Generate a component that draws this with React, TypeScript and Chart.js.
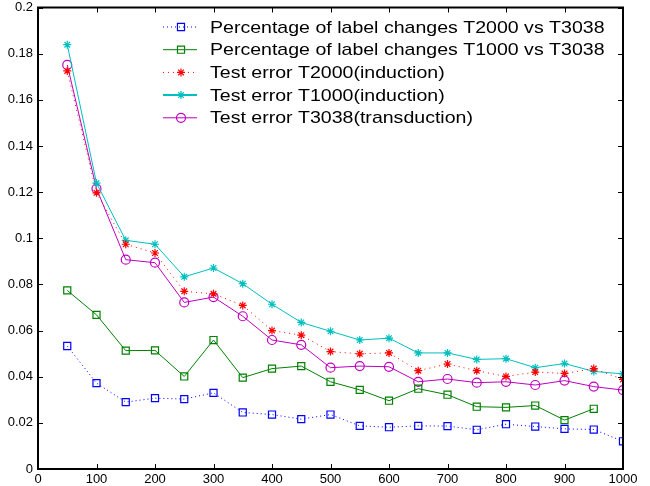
import React, { useEffect, useRef } from "react";
import { Chart, registerables } from "chart.js";
import { drawPoint } from "chart.js/helpers";

Chart.register(...registerables);

const sizes = [50, 100, 150, 200, 250, 300, 350, 400, 450, 500, 550, 600, 650, 700, 750, 800, 850, 900, 950, 1000];

const changesT2000 = [0.0533, 0.0372, 0.029, 0.0307, 0.0303, 0.033, 0.0245, 0.0236, 0.0216, 0.0236, 0.0187, 0.0181, 0.0187, 0.0186, 0.017, 0.0194, 0.0184, 0.0174, 0.0171, 0.012];
const changesT1000 = [0.0774, 0.0668, 0.0513, 0.0514, 0.0401, 0.0559, 0.0396, 0.0435, 0.0446, 0.0378, 0.0343, 0.0296, 0.0348, 0.0322, 0.027, 0.0267, 0.0275, 0.0212, 0.0261, null];
const errorT2000 = [0.1725, 0.1197, 0.0974, 0.0936, 0.077, 0.0759, 0.0709, 0.06, 0.058, 0.0509, 0.0499, 0.0503, 0.0426, 0.0455, 0.0426, 0.0401, 0.042, 0.0414, 0.0435, 0.0388];
const errorT1000 = [0.1839, 0.1239, 0.0991, 0.0974, 0.0833, 0.0871, 0.0803, 0.0714, 0.0635, 0.0597, 0.0559, 0.0567, 0.0503, 0.0503, 0.0475, 0.0478, 0.0439, 0.0457, 0.0423, 0.0412];
const errorT3038 = [0.1751, 0.1215, 0.0907, 0.0894, 0.0722, 0.0745, 0.0662, 0.0559, 0.0538, 0.0439, 0.0446, 0.0443, 0.0378, 0.039, 0.0374, 0.0378, 0.0364, 0.0383, 0.0357, 0.0342];

const labels = [
  "Percentage of label changes T2000 vs T3038",
  "Percentage of label changes T1000 vs T3038",
  "Test error T2000(induction)",
  "Test error T1000(induction)",
  "Test error T3038(transduction)",
];

const FONT = "'Liberation Sans', Arial, Helvetica, sans-serif";

// inward ticks on all four sides + the box, like the old matlab plots
const boxPlugin = {
  id: "box",
  afterDraw(chart) {
    const { ctx, chartArea: a, scales } = chart;
    const len = 5;
    ctx.save();
    ctx.strokeStyle = "#000";
    ctx.lineWidth = 1;
    for (const t of scales.x.ticks) {
      const px = Math.round(scales.x.getPixelForValue(t.value)) + 0.5;
      ctx.beginPath();
      ctx.moveTo(px, a.bottom);
      ctx.lineTo(px, a.bottom - len);
      ctx.moveTo(px, a.top);
      ctx.lineTo(px, a.top + len);
      ctx.stroke();
    }
    for (const t of scales.y.ticks) {
      const py = Math.round(scales.y.getPixelForValue(t.value)) + 0.5;
      ctx.beginPath();
      ctx.moveTo(a.left, py);
      ctx.lineTo(a.left + len, py);
      ctx.moveTo(a.right, py);
      ctx.lineTo(a.right - len, py);
      ctx.stroke();
    }
    ctx.lineWidth = 2;
    ctx.strokeRect(a.left, a.top, a.right - a.left, a.bottom - a.top);
    ctx.restore();
  },
};

const legendPlugin = {
  id: "boxLegend",
  afterDraw(chart) {
    const { ctx } = chart;
    const x0 = 163;
    const x1 = 197;
    const mx = 181;
    const tx = 210;
    const top = 27;
    const step = 22.7;
    ctx.save();
    chart.data.datasets.forEach((ds, i) => {
      const y = top + i * step;
      ctx.strokeStyle = ds.borderColor;
      ctx.lineWidth = i === 3 ? 2 : ds.borderWidth;
      ctx.setLineDash(ds.borderDash || []);
      ctx.beginPath();
      ctx.moveTo(x0, y);
      ctx.lineTo(x1, y);
      ctx.stroke();
      ctx.setLineDash([]);
      ctx.fillStyle = ds.pointBackgroundColor;
      ctx.strokeStyle = ds.pointBorderColor;
      ctx.lineWidth = 1.2;
      drawPoint(ctx, { pointStyle: ds.pointStyle, radius: ds.pointRadius, rotation: 0, borderWidth: 1.2 }, mx, y);
      // the source image is a bit stretched sideways, so widen the text to match
      ctx.save();
      ctx.translate(tx, y);
      ctx.scale(1.15, 1);
      ctx.fillStyle = "#000";
      ctx.font = `17px ${FONT}`;
      ctx.textBaseline = "middle";
      ctx.fillText(ds.label, 0, 1);
      ctx.restore();
    });
    ctx.restore();
  },
};

const App = () => {
  const canvasRef = useRef(null);

  useEffect(() => {
    const mk = (i, data, color, style, radius, dash) => ({
      label: labels[i],
      data,
      borderColor: color,
      borderWidth: 1,
      borderDash: dash,
      pointStyle: style,
      pointRadius: radius,
      pointBorderColor: color,
      pointBackgroundColor: "rgba(255,255,255,0)",
      pointBorderWidth: 1.2,
      tension: 0,
      spanGaps: false,
    });

    const chart = new Chart(canvasRef.current.getContext("2d"), {
      type: "line",
      data: {
        labels: sizes,
        datasets: [
          mk(0, changesT2000, "#0000ff", "rect", 5, [1, 3]),
          mk(1, changesT1000, "#008000", "rect", 5, []),
          mk(2, errorT2000, "#ff0000", "star", 4, [1, 4]),
          mk(3, errorT1000, "#00bfbf", "star", 4, []),
          mk(4, errorT3038, "#bf00bf", "circle", 4.5, []),
        ],
      },
      options: {
        responsive: false,
        animation: false,
        devicePixelRatio: 1,
        layout: { padding: { top: 7.5, right: 27, left: 0, bottom: 0 } },
        plugins: { legend: { display: false }, tooltip: { enabled: false } },
        scales: {
          x: {
            type: "linear",
            min: 0,
            max: 1000,
            grid: { display: false, drawTicks: false, tickLength: 0 },
            border: { display: false },
            ticks: {
              stepSize: 100,
              color: "#000",
              padding: 3,
              maxRotation: 0,
              font: { family: FONT, size: 13 },
              callback: (v) => String(v),
            },
            afterFit: (s) => {
              s.height = 17;
            },
          },
          y: {
            min: 0,
            max: 0.2,
            grid: { display: false, drawTicks: false, tickLength: 0 },
            border: { display: false },
            ticks: {
              stepSize: 0.02,
              color: "#000",
              padding: 5,
              font: { family: FONT, size: 13 },
              callback: (v) => String(Number(Number(v).toFixed(2))),
            },
            afterFit: (s) => {
              s.width = 38;
              s.paddingTop = 0;
              s.paddingBottom = 0;
            },
          },
        },
      },
      plugins: [boxPlugin, legendPlugin],
    });

    return () => {
      chart.destroy();
    };
  }, []);

  return (
    <div style={{ position: "absolute", left: 0, top: 0, width: 650, height: 486, background: "#fff" }}>
      <canvas ref={canvasRef} width={650} height={486} />
    </div>
  );
};

export default App;
